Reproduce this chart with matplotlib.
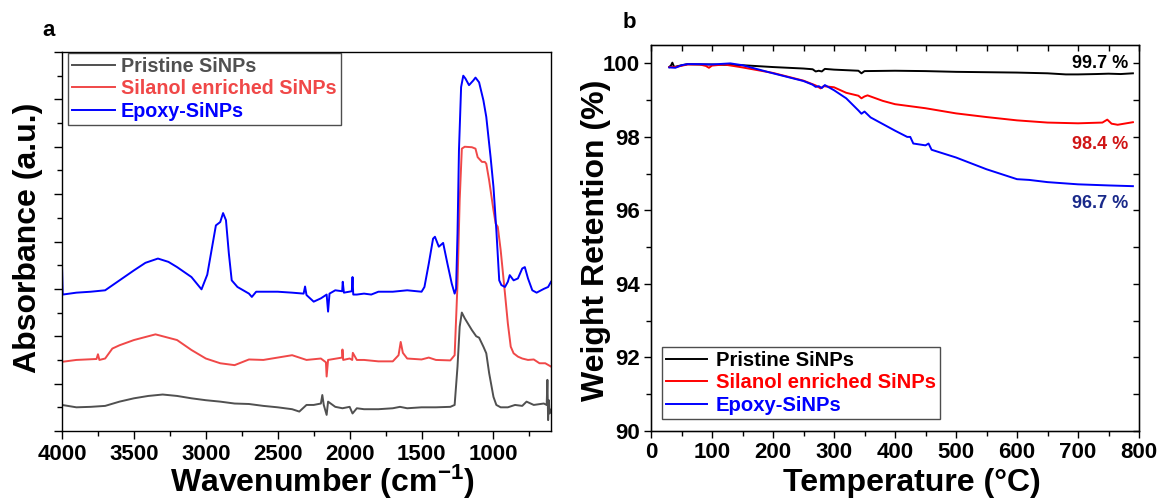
import matplotlib
matplotlib.use("Agg")
import matplotlib.pyplot as plt
from matplotlib.ticker import MultipleLocator, NullFormatter

plt.rcParams['font.family'] = ['Liberation Sans', 'DejaVu Sans']
plt.rcParams['font.weight'] = 'bold'
plt.rcParams['mathtext.fontset'] = 'custom'
plt.rcParams['mathtext.rm'] = 'Liberation Sans:bold'
plt.rcParams['mathtext.bf'] = 'Liberation Sans:bold'
plt.rcParams['mathtext.it'] = 'Liberation Sans:bold'

# ---------------- Panel a: FTIR spectra (offset, arbitrary units) ----------------
wn_epoxy = [4000, 3995, 3900, 3800, 3700, 3600, 3500, 3420, 3333, 3260, 3200, 3100, 3030,
            2990, 2960, 2930, 2900, 2880, 2860, 2840, 2820, 2780, 2700, 2680, 2650, 2500,
            2400, 2320, 2310, 2300, 2250, 2200, 2160, 2150, 2140, 2100, 2052, 2048, 2040,
            1985, 1980, 1975, 1950, 1900, 1850, 1800, 1700, 1600, 1500, 1480, 1450, 1420,
            1407, 1380, 1350, 1320, 1290, 1270, 1260, 1250, 1240, 1225, 1210, 1195, 1170,
            1140, 1125, 1100, 1070, 1050, 1020, 1000, 980, 960, 945, 920, 900, 887, 860,
            830, 800, 782, 760, 730, 700, 650, 620, 600]
ab_epoxy = [3.50, 2.88, 2.92, 2.94, 2.97, 3.18, 3.39, 3.55, 3.64, 3.57, 3.46, 3.25, 2.99,
            3.30, 3.82, 4.34, 4.41, 4.60, 4.45, 3.75, 3.18, 3.04, 2.90, 2.83, 2.94, 2.94,
            2.92, 2.90, 3.05, 2.87, 2.73, 2.80, 2.88, 2.52, 2.90, 2.97, 2.95, 3.15, 2.92,
            2.95, 3.25, 2.88, 2.88, 2.90, 2.88, 2.94, 2.94, 2.97, 2.94, 3.04, 3.53, 4.06,
            4.10, 3.89, 3.97, 3.53, 3.11, 2.90, 3.00, 4.17, 5.92, 7.26, 7.50, 7.44, 7.30,
            7.40, 7.46, 7.36, 6.98, 6.63, 5.78, 5.15, 4.24, 3.18, 3.08, 3.04, 3.15, 3.29,
            3.18, 3.22, 3.43, 3.46, 3.22, 2.97, 2.92, 3.00, 3.04, 3.15]

wn_silanol = [4000, 3900, 3760, 3750, 3740, 3700, 3650, 3600, 3500, 3350, 3200, 3100, 3000,
              2900, 2800, 2700, 2600, 2500, 2400, 2350, 2300, 2200, 2165, 2160, 2150, 2052,
              2050, 2045, 2000, 1982, 1978, 1950, 1900, 1800, 1700, 1660, 1645, 1630, 1600,
              1500, 1450, 1400, 1300, 1270, 1250, 1235, 1220, 1200, 1150, 1125, 1110, 1080,
              1060, 1050, 1030, 1000, 985, 970, 950, 920, 900, 880, 860, 830, 800, 760,
              720, 680, 640, 600]
ab_silanol = [1.46, 1.50, 1.52, 1.62, 1.50, 1.53, 1.74, 1.81, 1.92, 2.04, 1.92, 1.71, 1.53,
              1.43, 1.39, 1.51, 1.50, 1.55, 1.60, 1.55, 1.50, 1.53, 1.45, 1.15, 1.50, 1.55,
              1.72, 1.50, 1.53, 1.50, 1.65, 1.50, 1.50, 1.47, 1.47, 1.60, 1.88, 1.65, 1.53,
              1.51, 1.55, 1.50, 1.49, 1.60, 3.11, 4.87, 5.96, 6.00, 5.99, 5.96, 5.78, 5.68,
              5.68, 5.64, 5.29, 4.66, 4.38, 4.31, 3.82, 2.90, 2.27, 1.78, 1.64, 1.57, 1.53,
              1.50, 1.51, 1.43, 1.43, 1.36]

wn_pristine = [4000, 3900, 3800, 3700, 3600, 3500, 3400, 3300, 3200, 3100, 3000, 2900, 2800,
               2700, 2600, 2500, 2400, 2350, 2300, 2250, 2200, 2190, 2180, 2160, 2150, 2100,
               2050, 2000, 1980, 1950, 1900, 1800, 1700, 1650, 1600, 1500, 1400, 1300, 1270,
               1250, 1235, 1220, 1200, 1150, 1120, 1100, 1070, 1050, 1030, 1000, 980, 950,
               900, 850, 800, 770, 720, 650, 630, 625, 620, 615, 610, 600]
ab_pristine = [0.55, 0.50, 0.51, 0.53, 0.62, 0.69, 0.74, 0.77, 0.74, 0.69, 0.65, 0.62, 0.58,
               0.57, 0.53, 0.50, 0.46, 0.41, 0.55, 0.55, 0.58, 0.76, 0.55, 0.34, 0.62, 0.51,
               0.48, 0.51, 0.37, 0.48, 0.46, 0.46, 0.48, 0.51, 0.48, 0.50, 0.50, 0.51, 0.55,
               1.36, 2.20, 2.50, 2.38, 2.13, 2.00, 1.97, 1.78, 1.64, 1.22, 0.72, 0.55, 0.50,
               0.50, 0.55, 0.53, 0.62, 0.55, 0.58, 0.55, 1.08, 0.23, 0.65, 0.37, 0.45]

# ---------------- Panel b: TGA ----------------
t_pristine = [30, 33, 35, 38, 45, 60, 80, 100, 150, 200, 250, 265, 270, 275, 280, 285, 300,
              340, 345, 350, 400, 450, 500, 550, 600, 650, 680, 700, 730, 750, 770, 790]
w_pristine = [99.90, 99.95, 100.02, 99.90, 99.93, 99.98, 99.97, 99.97, 99.95, 99.90, 99.86,
              99.84, 99.78, 99.80, 99.78, 99.85, 99.83, 99.80, 99.73, 99.79, 99.80, 99.79,
              99.77, 99.76, 99.75, 99.73, 99.70, 99.70, 99.71, 99.72, 99.71, 99.73]

t_silanol = [30, 40, 60, 80, 90, 95, 100, 120, 150, 200, 250, 270, 278, 283, 300, 320, 340,
             345, 350, 355, 380, 400, 450, 500, 550, 600, 650, 700, 740, 748, 755, 765, 790]
w_silanol = [99.90, 99.90, 99.97, 99.97, 99.93, 99.88, 99.94, 99.97, 99.89, 99.74, 99.53,
             99.40, 99.32, 99.38, 99.35, 99.20, 99.12, 99.05, 99.10, 99.13, 98.98, 98.89,
             98.78, 98.64, 98.54, 98.45, 98.39, 98.37, 98.39, 98.47, 98.36, 98.33, 98.40]

t_epoxy = [30, 40, 50, 60, 80, 100, 130, 150, 200, 250, 265, 270, 275, 280, 285, 300, 320,
           340, 345, 350, 360, 400, 420, 425, 430, 450, 455, 460, 500, 550, 600, 620, 650,
           700, 750, 790]
w_epoxy = [99.89, 99.88, 99.95, 99.98, 99.98, 99.97, 100.00, 99.95, 99.73, 99.52, 99.42,
           99.36, 99.38, 99.33, 99.41, 99.27, 99.05, 98.72, 98.63, 98.69, 98.53, 98.17,
           98.00, 98.00, 97.82, 97.77, 97.82, 97.65, 97.44, 97.12, 96.85, 96.83, 96.77,
           96.71, 96.68, 96.66]

labels = ["Pristine SiNPs", "Silanol enriched SiNPs", "Epoxy-SiNPs"]
final_values = ["99.7 %", "98.4 %", "96.7 %"]
final_pos = [(782, 100.0), (782, 97.8), (782, 96.2)]

W, H = 1165, 504
fig = plt.figure(figsize=(W / 100, H / 100), dpi=100)

def ax_rect(x0, y0, x1, y1):
    return [x0 / W, 1 - y1 / H, (x1 - x0) / W, (y1 - y0) / H]

tick_fs = 16
label_fs = 23

# ---- Panel a ----
axa = fig.add_axes(ax_rect(62, 52, 551, 431))
cols_a = ['#505050', '#f04848', '#0000ff']
axa.plot(wn_pristine, ab_pristine, color=cols_a[0], lw=1.4, label=labels[0])
axa.plot(wn_silanol, ab_silanol, color=cols_a[1], lw=1.4, label=labels[1])
axa.plot(wn_epoxy, ab_epoxy, color=cols_a[2], lw=1.4, label=labels[2])
axa.set_xlim(4000, 600)
axa.set_ylim(0, 8)
axa.xaxis.set_major_locator(MultipleLocator(500))
axa.xaxis.set_minor_locator(MultipleLocator(250))
axa.yaxis.set_major_locator(MultipleLocator(1))
axa.yaxis.set_minor_locator(MultipleLocator(0.5))
axa.yaxis.set_major_formatter(NullFormatter())
axa.tick_params(axis='both', which='major', direction='out', length=6, width=1.0,
                labelsize=tick_fs, pad=3)
axa.tick_params(axis='both', which='minor', direction='out', length=3.5, width=1.0)
for lab in axa.get_xticklabels():
    lab.set_fontweight('bold')
for s in axa.spines.values():
    s.set_linewidth(1.0)
leg = axa.legend(loc='upper left', bbox_to_anchor=(0.012, 0.998), fontsize=14.2,
                 frameon=True, fancybox=False, edgecolor='#202020', handlelength=2.2,
                 handletextpad=0.3, borderpad=0.2, labelspacing=0.18, borderaxespad=0.0)
leg.get_frame().set_linewidth(1.0)
for txt, c in zip(leg.get_texts(), cols_a):
    txt.set_color(c)
    txt.set_fontweight('bold')
fig.text(28 / W, 1 - 238 / H, "Absorbance (a.u.)", rotation=90, ha='center', va='center',
         fontsize=label_fs, fontweight='bold')
fig.text(322 / W, 1 - 482 / H, r"Wavenumber (cm$^{-1}$)", ha='center', va='center',
         fontsize=label_fs, fontweight='bold')
fig.text(49 / W, 1 - 30 / H, "a", ha='center', va='center', fontsize=16, fontweight='bold')

# ---- Panel b ----
axb = fig.add_axes(ax_rect(651, 45, 1139, 431))
cols_b = ['#000000', '#ff0000', '#0000ff']
axb.plot(t_pristine, w_pristine, color=cols_b[0], lw=1.4, label=labels[0])
axb.plot(t_silanol, w_silanol, color=cols_b[1], lw=1.4, label=labels[1])
axb.plot(t_epoxy, w_epoxy, color=cols_b[2], lw=1.4, label=labels[2])
axb.set_xlim(0, 800)
axb.set_ylim(90, 100.5)
axb.xaxis.set_major_locator(MultipleLocator(100))
axb.xaxis.set_minor_locator(MultipleLocator(50))
axb.yaxis.set_major_locator(MultipleLocator(2))
axb.yaxis.set_minor_locator(MultipleLocator(1))
axb.tick_params(axis='both', which='major', direction='out', length=5, width=1.0,
                labelsize=tick_fs, pad=3)
axb.tick_params(axis='both', which='minor', direction='out', length=3.5, width=1.0)
for lab in axb.get_xticklabels() + axb.get_yticklabels():
    lab.set_fontweight('bold')
for s in axb.spines.values():
    s.set_linewidth(1.0)
# mirrored ticks on top and right point inward
ax_top = axb.twiny()
ax_top.set_xlim(axb.get_xlim())
ax_top.xaxis.set_major_locator(MultipleLocator(100))
ax_top.xaxis.set_minor_locator(MultipleLocator(50))
ax_top.tick_params(axis='x', which='both', direction='in', length=4.5, width=1.0,
                   labeltop=False)
ax_right = axb.twinx()
ax_right.set_ylim(axb.get_ylim())
ax_right.yaxis.set_major_locator(MultipleLocator(2))
ax_right.yaxis.set_minor_locator(MultipleLocator(1))
ax_right.tick_params(axis='y', which='both', direction='in', length=4.5, width=1.0,
                     labelright=False)

for (x, y), txt, c in zip(final_pos, final_values, ['#000000', '#d01515', '#1a2a8a']):
    axb.text(x, y, txt, ha='right', va='center', fontsize=13, fontweight='bold', color=c)

legb = axb.legend(loc='lower left', bbox_to_anchor=(0.0225, 0.031), fontsize=14.6,
                  frameon=True, fancybox=False, edgecolor='#202020', handlelength=2.0,
                  handletextpad=0.45, borderpad=0.2, labelspacing=0.18, borderaxespad=0.0)
legb.get_frame().set_linewidth(1.0)
for txt, c in zip(legb.get_texts(), cols_b):
    txt.set_color(c)
    txt.set_fontweight('bold')
fig.text(596 / W, 1 - 240 / H, "Weight Retention (%)", rotation=90, ha='center',
         va='center', fontsize=label_fs, fontweight='bold')
fig.text(912 / W, 1 - 483 / H, "Temperature (°C)", ha='center', va='center',
         fontsize=label_fs, fontweight='bold')
fig.text(629 / W, 1 - 22 / H, "b", ha='center', va='center', fontsize=16, fontweight='bold')

fig.savefig("out.png", dpi=100)
